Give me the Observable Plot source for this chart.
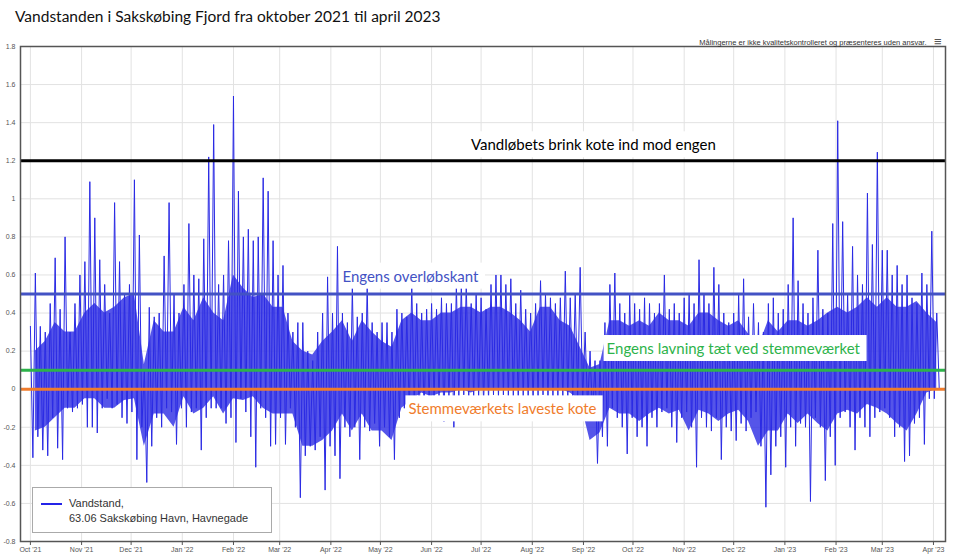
<!DOCTYPE html>
<html><head><meta charset="utf-8">
<script src="https://cdn.jsdelivr.net/npm/d3@7"></script>
<script src="https://cdn.jsdelivr.net/npm/@observablehq/plot@0.6"></script>
<style>
body{margin:0;background:#fff;}
#wrap{position:relative;width:954px;height:556px;overflow:hidden;background:#fff;}
#title{position:absolute;left:15px;top:7px;font-family:Lato,sans-serif;font-size:15.5px;color:#111;white-space:nowrap;}
#chart{position:absolute;left:0;top:32px;}
#legend{position:absolute;left:32px;top:487px;width:238px;height:44px;border:1px solid #aaa;background:#fff;font-family:"Liberation Sans",Arial,sans-serif;font-size:11px;color:#333;}
#legend .sw{position:absolute;left:8px;top:15px;width:21px;height:2px;background:#2424e8;}
#legend .t{position:absolute;left:36px;top:8px;line-height:15px;}
</style></head>
<body>
<div id="wrap">
<div id="title"></div>
<div id="chart"></div>
<div id="legend"><div class="sw"></div><div class="t" id="legtext"></div></div>
</div>
<script>
const titleText = "Vandstanden i Sakskøbing Fjord fra oktober 2021 til april 2023";
const noteText = "Målingerne er ikke kvalitetskontrolleret og præsenteres uden ansvar.";
const legendLines = ["Vandstand,", "63.06 Sakskøbing Havn, Havnegade"];

// series: per 3-day period starting 2021-10-01, the high and the low water level (m)
const seriesStart = "2021-10-01";
const periodDays = 3;
const highLevels = [
 0.33,0.61,0.33,0.30,0.45,0.69,0.42,0.80,0.30,0.45,
 0.60,0.67,1.09,0.90,0.68,0.55,0.40,0.98,0.67,0.50,
 0.55,1.10,0.81,0.10,0.43,0.38,0.40,0.70,0.98,0.50,
 0.40,0.55,0.87,0.60,0.58,0.79,1.22,1.39,0.55,0.60,
 0.78,1.54,1.04,0.80,0.84,0.78,0.80,1.11,1.04,0.78,
 0.60,0.65,0.40,0.30,0.35,0.35,0.20,0.15,0.30,0.40,
 0.59,0.40,0.75,0.40,0.35,0.54,0.38,0.40,0.55,0.35,
 0.30,0.35,0.35,0.30,0.42,0.40,0.38,0.55,0.45,0.40,
 0.42,0.45,0.42,0.48,0.45,0.45,0.55,0.55,0.55,0.45,
 0.50,0.48,0.42,0.55,0.60,0.60,0.55,0.58,0.45,0.52,
 0.42,0.40,0.45,0.57,0.50,0.48,0.45,0.48,0.62,0.48,
 0.50,0.64,0.30,0.20,0.15,0.15,0.35,0.55,0.61,0.45,
 0.40,0.50,0.45,0.42,0.48,0.45,0.40,0.45,0.60,0.42,
 0.45,0.40,0.48,0.50,0.45,0.68,0.50,0.45,0.64,0.55,
 0.40,0.35,0.40,0.50,0.58,0.38,0.45,0.35,0.30,0.45,
 0.48,0.40,0.42,0.55,0.90,0.57,0.45,0.40,0.48,0.73,
 0.42,0.40,0.87,1.41,0.88,0.50,0.75,0.60,0.55,1.03,
 0.76,1.245,0.73,0.73,0.60,0.65,0.55,0.60,0.48,0.45,
 0.61,0.55,0.83,0.40
];
const lowLevels = [
 -0.36,-0.25,-0.32,-0.35,-0.15,-0.31,-0.37,-0.10,-0.12,-0.10,
 -0.08,-0.20,-0.20,-0.23,-0.10,-0.05,-0.10,-0.08,-0.15,-0.18,
 -0.12,-0.37,-0.20,-0.49,-0.30,-0.15,-0.20,-0.10,-0.12,-0.29,
 -0.10,-0.20,-0.12,-0.10,-0.32,-0.15,-0.10,-0.10,-0.10,-0.18,
 -0.15,-0.28,-0.05,-0.12,-0.25,-0.41,-0.10,-0.15,-0.30,-0.29,
 -0.15,-0.29,-0.10,-0.20,-0.57,-0.35,-0.30,-0.32,-0.25,-0.53,
 -0.30,-0.35,-0.47,-0.20,-0.25,-0.20,-0.37,-0.20,-0.22,-0.18,
 -0.30,-0.20,-0.25,-0.37,-0.15,-0.10,-0.12,-0.10,-0.15,-0.12,
 -0.06,-0.05,-0.05,-0.17,-0.05,-0.20,-0.05,-0.03,-0.05,-0.05,
 -0.05,-0.08,-0.06,-0.03,-0.05,-0.03,-0.05,-0.04,-0.06,-0.04,
 -0.05,-0.06,-0.04,-0.03,-0.06,-0.05,-0.04,-0.05,-0.06,-0.04,
 -0.05,-0.06,-0.10,-0.15,-0.39,-0.25,-0.30,-0.10,-0.15,-0.20,
 -0.34,-0.15,-0.25,-0.20,-0.30,-0.15,-0.20,-0.12,-0.10,-0.20,
 -0.28,-0.15,-0.12,-0.20,-0.41,-0.15,-0.20,-0.22,-0.15,-0.37,
 -0.20,-0.22,-0.27,-0.18,-0.22,-0.15,-0.12,-0.30,-0.62,-0.45,
 -0.30,-0.25,-0.41,-0.20,-0.30,-0.18,-0.20,-0.59,-0.15,-0.20,
 -0.48,-0.25,-0.40,-0.15,-0.12,-0.20,-0.32,-0.15,-0.20,-0.25,
 -0.15,-0.12,-0.10,-0.15,-0.25,-0.20,-0.38,-0.35,-0.18,-0.15,
 -0.29,-0.05,-0.05,0.00
];
// dense core band of the tidal signal, per 6-day window starting 2021-10-01 (m)
const coreDays = 6;
const coreHigh = [
 0.20,0.25,0.35,0.30,0.30,0.40,0.45,0.40,0.43,0.48,
 0.50,0.13,0.36,0.30,0.30,0.43,0.36,0.48,0.40,0.36,
 0.60,0.53,0.48,0.50,0.43,0.43,0.25,0.20,0.18,0.25,
 0.30,0.36,0.25,0.36,0.30,0.25,0.22,0.36,0.40,0.36,
 0.36,0.40,0.40,0.43,0.43,0.40,0.43,0.43,0.40,0.36,
 0.30,0.43,0.43,0.36,0.33,0.22,0.11,0.13,0.36,0.36,
 0.33,0.36,0.33,0.40,0.36,0.36,0.33,0.40,0.40,0.36,
 0.33,0.36,0.29,0.22,0.36,0.30,0.36,0.36,0.33,0.36,
 0.40,0.43,0.40,0.43,0.48,0.43,0.48,0.43,0.43,0.46,
 0.40,0.35
];
const coreLow = [
 -0.22,-0.20,-0.15,-0.10,-0.10,-0.05,-0.05,-0.10,-0.10,-0.06,
 -0.05,-0.30,-0.13,-0.13,-0.20,-0.04,-0.13,-0.10,-0.04,-0.13,
 -0.05,-0.06,-0.04,-0.10,-0.13,-0.13,-0.13,-0.30,-0.30,-0.27,
 -0.22,-0.13,-0.22,-0.13,-0.22,-0.22,-0.27,-0.10,-0.06,-0.02,
 -0.04,-0.02,-0.02,0.00,-0.02,0.00,0.00,0.00,0.00,0.00,
 0.00,0.00,0.00,0.00,-0.02,-0.06,-0.27,-0.23,-0.10,-0.13,
 -0.13,-0.17,-0.13,-0.10,-0.13,-0.11,-0.22,-0.11,-0.13,-0.17,
 -0.13,-0.11,-0.17,-0.30,-0.22,-0.22,-0.13,-0.18,-0.13,-0.18,
 -0.22,-0.13,-0.11,-0.13,-0.08,-0.10,-0.13,-0.18,-0.22,-0.13,
 -0.02,0.00
];

// reference levels (m) and their labels
const refLevels = [1.2, 0.5, 0.1, 0];
const refNames = ["Vandløbets brink kote ind mod engen", "Engens overløbskant", "Engens lavning tæt ved stemmeværket", "Stemmeværkets laveste kote"];
const refLabelDates = ["2022-09-07", "2022-04-08", "2022-09-15", "2022-05-18"];
const refLabelLevels = [1.28, 0.59, 0.21, -0.107];

const monthTicks = ["2021-10-01","2021-11-01","2021-12-01","2022-01-01","2022-02-01","2022-03-01","2022-04-01","2022-05-01","2022-06-01","2022-07-01","2022-08-01","2022-09-01","2022-10-01","2022-11-01","2022-12-01","2023-01-01","2023-02-01","2023-03-01","2023-04-01"];
const monthLabels = ["Oct '21","Nov '21","Dec '21","Jan '22","Feb '22","Mar '22","Apr '22","May '22","Jun '22","Jul '22","Aug '22","Sep '22","Oct '22","Nov '22","Dec '22","Jan '23","Feb '23","Mar '23","Apr '23"];
const yTicks = [-0.8,-0.6,-0.4,-0.2,0,0.2,0.4,0.6,0.8,1,1.2,1.4,1.6,1.8];
const yTickLabels = ["-0.8","-0.6","-0.4","-0.2","0","0.2","0.4","0.6","0.8","1","1.2","1.4","1.6","1.8"];

// ---- build
document.getElementById("title").textContent = titleText;
document.getElementById("legtext").innerHTML = legendLines.join("<br>");

const DAY = 864e5;
const t0 = new Date(seriesStart + "T00:00:00Z").getTime();
const series = [];
highLevels.forEach((h, i) => {
  series.push({t: new Date(t0 + i * periodDays * DAY), v: h});
  series.push({t: new Date(t0 + (i * periodDays + periodDays / 2) * DAY), v: lowLevels[i]});
});
const core = coreHigh.map((h, j) => ({t: new Date(t0 + (j * coreDays + coreDays / 2) * DAY), hi: h, lo: coreLow[j]}));
const tickDates = monthTicks.map(s => new Date(s + "T00:00:00Z"));
const monthFmt = new Map(tickDates.map((d, i) => [+d, monthLabels[i]]));
const yFmt = new Map(yTicks.map((v, i) => [v, yTickLabels[i]]));
const refColors = ["#000000", "#4352c4", "#2db34a", "#f07c2c"];
const labels = refNames.map((n, i) => ({name: n, t: new Date(refLabelDates[i] + "T00:00:00Z"), v: refLabelLevels[i], c: refColors[i]}));
const labelStyle = {x: "t", y: "v", text: "name", fill: "c", fontFamily: "Lato, sans-serif", fontSize: 15, className: "ann"};
const blue = "#2a2ae4";

const chart = Plot.plot({
  width: 954, height: 524,
  marginTop: 14, marginBottom: 15, marginLeft: 20, marginRight: 9,
  style: {fontFamily: "'Liberation Sans', Arial, sans-serif", fontSize: "7px", color: "#555", background: "transparent"},
  x: {type: "utc", domain: [new Date("2021-09-25T00:00:00Z"), new Date("2023-04-08T07:00:00Z")], label: null},
  y: {domain: [-0.8, 1.8], label: null},
  marks: [
    Plot.gridX(tickDates, {stroke: "#e2e2e2", strokeOpacity: 1}),
    Plot.gridY(yTicks, {stroke: "#e2e2e2", strokeOpacity: 1}),
    Plot.areaY(core, {x: "t", y1: "lo", y2: "hi", fill: blue, fillOpacity: 0.8}),
    Plot.line(series, {x: "t", y: "v", stroke: blue, strokeWidth: 1}),
    ...refLevels.map((lv, i) => Plot.ruleY([lv], {stroke: refColors[i], strokeWidth: 3})),
    Plot.text(labels.slice(0, 1), {...labelStyle, textAnchor: "middle"}),
    Plot.text(labels.slice(1), {...labelStyle, textAnchor: "start"}),
    Plot.frame({stroke: "#555", strokeWidth: 1.5}),
    Plot.axisX(tickDates, {tickSize: 4, tickPadding: 2, tickFormat: d => monthFmt.get(+d), stroke: "#555", fill: "#555"}),
    Plot.axisY(yTicks, {tickSize: 0, tickPadding: 5, tickFormat: d => yFmt.get(d), fill: "#555"}),
    Plot.text([noteText], {frameAnchor: "top-right", text: d => d, dx: -19, dy: -2, lineAnchor: "bottom", textAnchor: "end", fontSize: 7.5, fill: "#333"}),
    Plot.text(["≡"], {frameAnchor: "top-right", text: d => d, dx: -4, dy: -1, lineAnchor: "bottom", textAnchor: "end", fontSize: 13, fill: "#555"})
  ]
});
document.getElementById("chart").appendChild(chart);

// white boxes behind the annotation labels, sized from the rendered text
chart.querySelectorAll("g.ann text").forEach(el => {
  const b = el.getBBox();
  const r = document.createElementNS("http://www.w3.org/2000/svg", "rect");
  r.setAttribute("x", b.x - 3);
  r.setAttribute("y", b.y - 4);
  r.setAttribute("width", b.width + 9);
  r.setAttribute("height", b.height + 8);
  r.setAttribute("fill", "white");
  const tr = el.getAttribute("transform");
  if (tr) r.setAttribute("transform", tr);
  el.parentNode.insertBefore(r, el);
});
</script>
</body></html>
